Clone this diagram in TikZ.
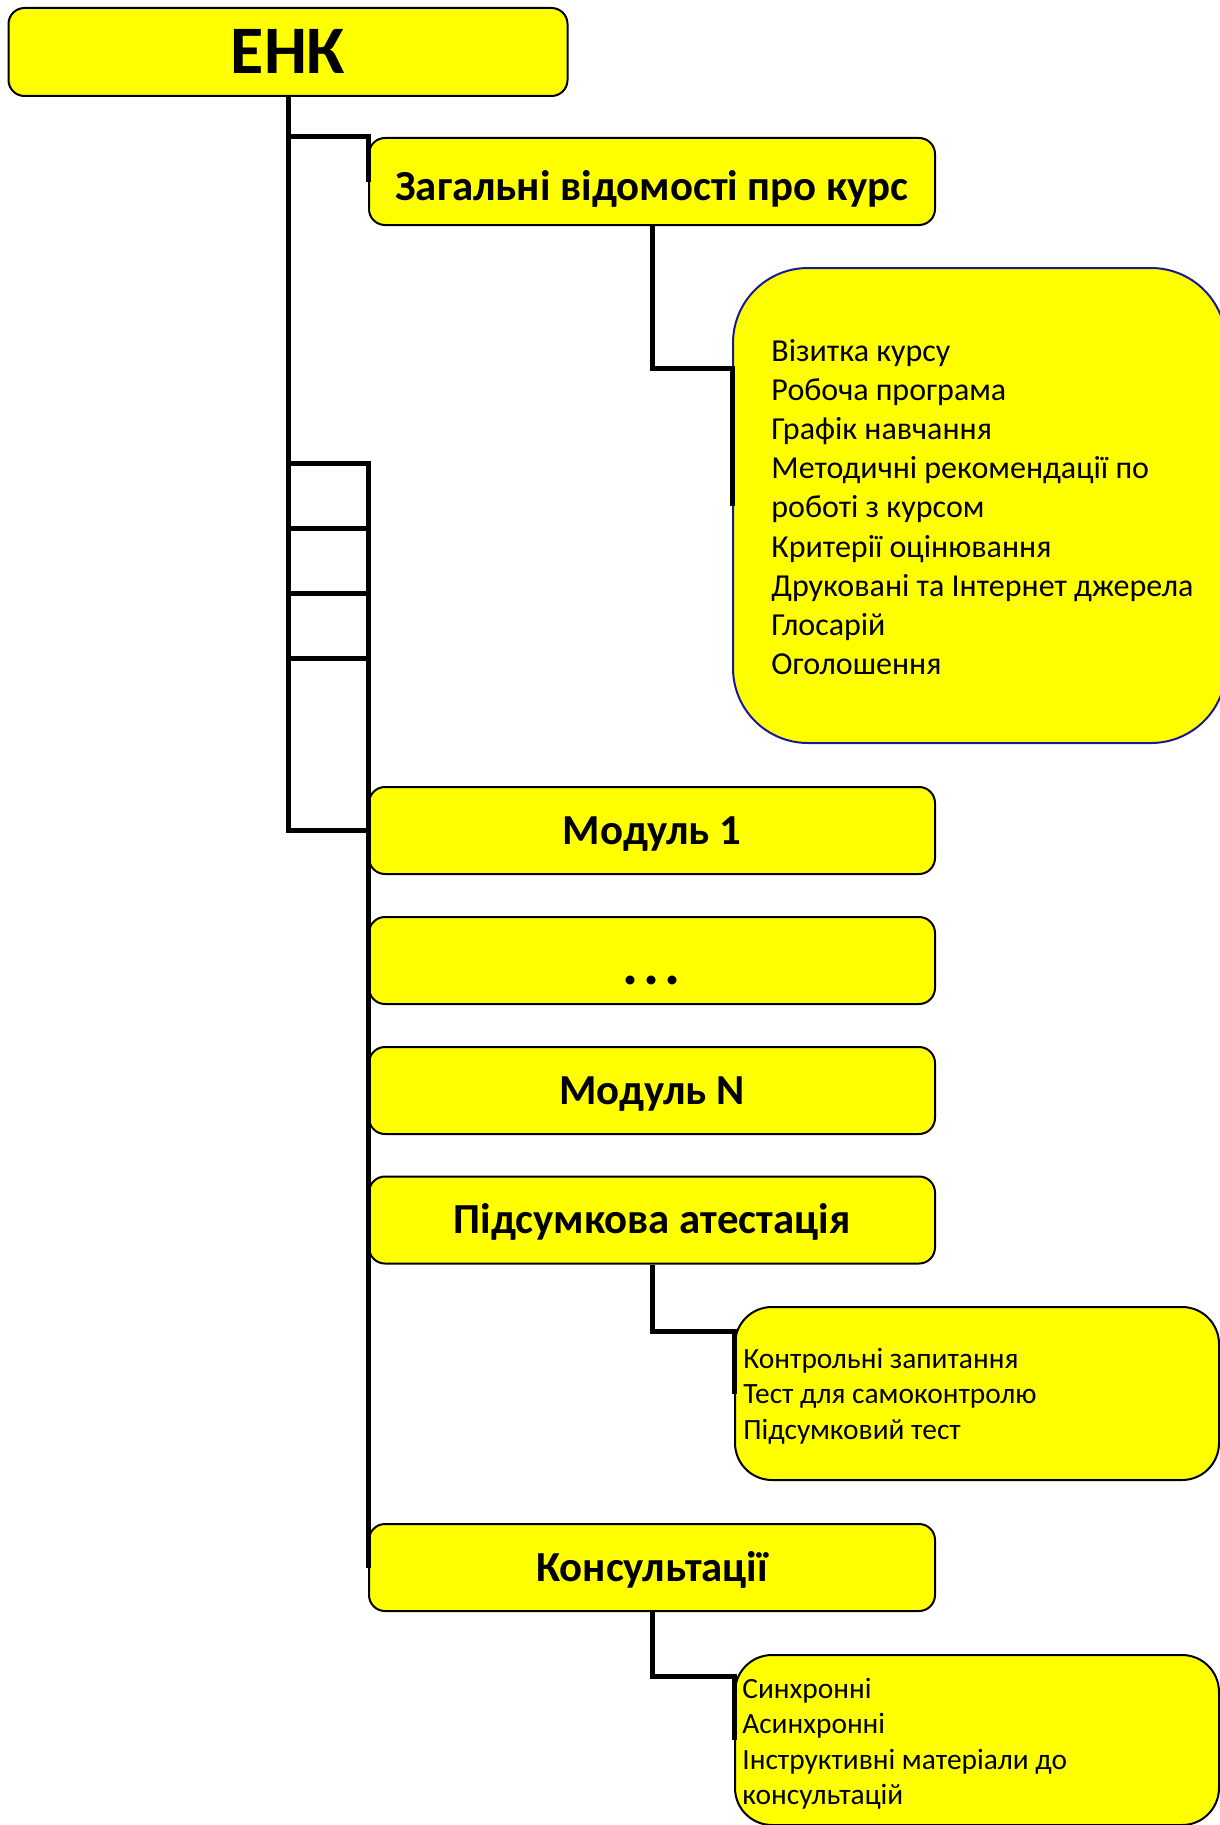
\documentclass[tikz,border=0pt]{standalone}
\usepackage{fontspec}
\setmainfont{Carlito}
\definecolor{boxyellow}{RGB}{255,255,0}
\definecolor{infoblue}{RGB}{25,25,150}
\begin{document}
\begin{tikzpicture}[x=0.5pt,y=-0.5pt,
  ybox/.style={draw=black, line width=1pt, fill=boxyellow, inner sep=0pt},
  rootbox/.style={ybox, rounded corners=8pt, minimum width=279.5pt, minimum height=44pt,
    font=\fontsize{34pt}{40pt}\selectfont\bfseries, text height=21.9pt, text depth=0pt},
  titlebox/.style={ybox, rounded corners=8pt, minimum width=283pt, minimum height=43.5pt,
    font=\fontsize{21.4pt}{25pt}\selectfont\bfseries, text height=13.5pt, text depth=0pt},
  infobox/.style={ybox, draw=infoblue, rounded corners=37.5pt, minimum width=246.5pt, minimum height=237.5pt},
  subbox/.style={ybox, rounded corners=18.5pt, minimum width=242pt},
  biglist/.style={inner sep=0pt, anchor=base west, font=\fontsize{16pt}{19.6pt}\selectfont},
  smalllist/.style={inner sep=0pt, anchor=base west, font=\fontsize{14.7pt}{17.75pt}\selectfont},
  conn/.style={draw=black, line width=2.5pt}
]
\useasboundingbox (0,0) rectangle (1220,1825);
\clip (0,0) rectangle (1220,1825);

% boxes
\node[rootbox] (enk) at (288,52) {ЕНК};
\node[titlebox, text height=18.5pt] (gen) at (652,181.5) {Загальні відомості про курс};
\node[infobox] (info) at (979.5,505.5) {};
\node[biglist] (infotext) at (771,361) {\parbox[t]{260pt}{Візитка курсу\\Робоча програма\\Графік навчання\\Методичні рекомендації по\\роботі з курсом\\Критерії оцінювання\\Друковані та Інтернет джерела\\Глосарій\\Оголошення}};
\node[titlebox] (mod1) at (652,830.5) {Модуль 1};
\node[titlebox] (dots) at (652,960.5) {\raisebox{-5pt}{\fontsize{30pt}{30pt}\selectfont .\hspace{2.5pt}.\hspace{2.5pt}.}};
\node[titlebox] (modn) at (652,1090.5) {Модуль N};
\node[titlebox] (final) at (652,1220) {Підсумкова атестація};
\node[subbox, minimum height=86.5pt] (exam) at (977,1393.5) {};
\node[smalllist] (examtext) at (743,1368) {\parbox[t]{240pt}{Контрольні запитання\\Тест для самоконтролю\\Підсумковий тест}};
\node[titlebox] (cons) at (652,1567.5) {Консультації};
\node[subbox, minimum height=85pt] (consb) at (977,1740) {};
\node[smalllist] (constext) at (742,1698) {\parbox[t]{240pt}{Синхронні\\Асинхронні\\Інструктивні матеріали до\\консультацій}};

% rung coordinates on the trunk
\coordinate (r1) at (288,463);
\coordinate (r2) at (288,528);
\coordinate (r3) at (288,593);
\coordinate (r4) at (288,658);

% connectors
\draw[conn] (enk.south) -- (enk.south |- mod1.west) -- (mod1.west);
\draw[conn] (enk.south |- gen.north) -- (gen.north west) -- (gen.west);
\draw[conn] (r1) -- (r1 -| dots.west) -- (dots.west);
\draw[conn] (r2) -- (r2 -| modn.west) -- (modn.west);
\draw[conn] (r3) -- (r3 -| final.west) -- (final.west);
\draw[conn] (r4) -- (r4 -| cons.west) -- (cons.west);
\draw[conn] (gen.south) -- ++(0,142) -| (info.west);
\draw[conn] (final.south) -- ++(0,67) -| (exam.west);
\draw[conn] (cons.south) -- ++(0,64) -| (consb.west);
\end{tikzpicture}
\end{document}
